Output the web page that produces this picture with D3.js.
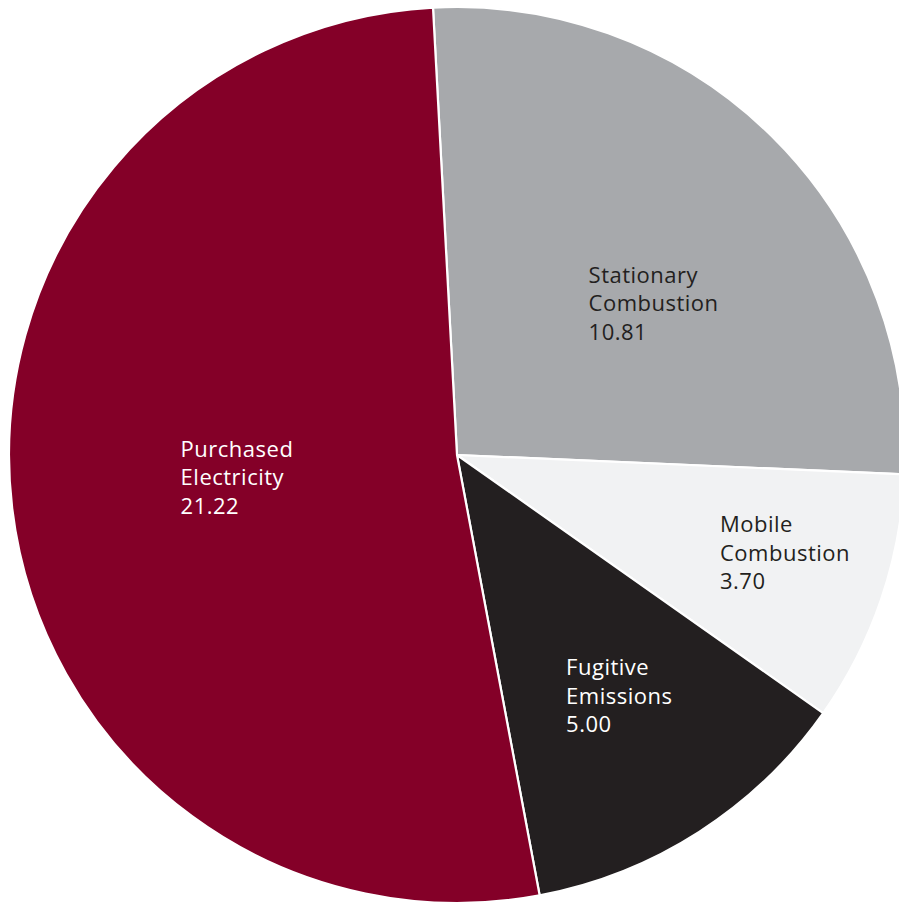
<!DOCTYPE html>
<html>
<head>
<meta charset="utf-8">
<script src="https://cdn.jsdelivr.net/npm/d3@7"></script>
<style>
  html, body { margin: 0; padding: 0; background: #ffffff; }
  svg { display: block; }
</style>
</head>
<body>
<svg id="chart" width="899" height="902"></svg>
<script>
// Emission sources (clockwise from the top)
const categories = ["Stationary Combustion", "Mobile Combustion", "Fugitive Emissions", "Purchased Electricity"];
const labelLines = [["Stationary", "Combustion"], ["Mobile", "Combustion"], ["Fugitive", "Emissions"], ["Purchased", "Electricity"]];
const values = [10.81, 3.70, 5.00, 21.22];

// Styling
const fills = ["#a7a9ac", "#f1f2f3", "#231f20", "#840028"];
const textFills = ["#231f20", "#231f20", "#ffffff", "#ffffff"];
// Label nudges from each slice centroid (px)
const labelNudge = [[-26, -13], [51, 5], [-12, 32], [-54, -25]];

const width = 899, height = 902;
const cx = 457, cy = 455, radius = 448;
const startAngle = -0.0536;

const svg = d3.select("#chart");
const g = svg.append("g").attr("transform", `translate(${cx},${cy})`);

const pie = d3.pie()
  .value(d => d.value)
  .sort(null)
  .startAngle(startAngle)
  .endAngle(startAngle + 2 * Math.PI);

const data = categories.map((c, i) => ({ name: c, value: values[i], i }));
const arcs = pie(data);

const arc = d3.arc().innerRadius(0).outerRadius(radius);

g.selectAll("path.slice")
  .data(arcs)
  .join("path")
  .attr("class", "slice")
  .attr("d", arc)
  .attr("fill", d => fills[d.data.i])
  .attr("stroke", "#ffffff")
  .attr("stroke-width", 2.2)
  .attr("stroke-linejoin", "round");

const fmt = d3.format(".2f");
const lineH = 28.5;

const labels = g.selectAll("text.lbl")
  .data(arcs)
  .join("text")
  .attr("class", "lbl")
  .attr("font-family", "'Open Sans', 'Noto Sans', sans-serif")
  .attr("font-size", 22)
  .attr("letter-spacing", 0.5)
  .attr("fill", d => textFills[d.data.i])
  .attr("transform", d => {
    const [x, y] = arc.centroid(d);
    const [nx, ny] = labelNudge[d.data.i];
    return `translate(${x + nx},${y + ny})`;
  });

labels.each(function(d) {
  const t = d3.select(this);
  const lines = labelLines[d.data.i].concat([fmt(d.data.value)]);
  lines.forEach((s, k) => {
    t.append("tspan").attr("x", 0).attr("y", k * lineH).text(s);
  });
});
</script>
</body>
</html>
